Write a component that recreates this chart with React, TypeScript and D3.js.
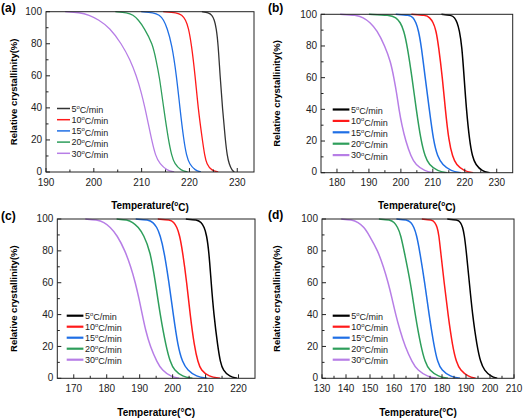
import React from "react";
import * as d3 from "d3";

type Pt = [number, number];

const rates = ["5", "10", "15", "20", "30"];
const seriesColors = ["#111111", "#ff1a1a", "#1f6fe5", "#2e9e5b", "#b77ee6"];
const yTicks = [0, 20, 40, 60, 80, 100];

// Panel (a)  [temperature °C, relative crystallinity %]
const a5: Pt[] = [[222.6,100],[224.0,99.5],[224.7,98],[225.2,95],[225.6,90],[226.0,80],[226.4,60],[226.9,40],[227.5,20],[227.9,10],[228.3,5],[228.9,1],[229.4,0]];
const a10: Pt[] = [[214.5,100],[217.4,99.5],[218.4,98],[219.2,95],[219.8,90],[220.4,80],[221.2,60],[221.8,40],[222.7,20],[223.2,10],[223.6,5],[224.6,1],[226.0,0]];
const a15: Pt[] = [[209.9,100],[212.5,99.5],[213.7,98],[214.6,95],[215.3,90],[216.3,80],[217.3,60],[218.0,40],[218.8,20],[219.4,10],[220.0,5],[221.2,1],[222.4,0]];
const a20: Pt[] = [[204.5,100],[207.0,99.5],[208.2,98],[209.3,95],[210.5,90],[212.3,80],[213.0,70],[213.7,60],[214.6,40],[215.6,20],[216.3,10],[216.9,5],[218.2,1],[219.6,0]];
const a30: Pt[] = [[194.0,100],[197.0,99.5],[199.0,98],[201.0,95],[203.3,90],[205.8,80],[207.6,70],[208.9,60],[209.9,50],[210.7,40],[211.4,30],[212.1,20],[212.9,10],[213.8,5],[215.3,1],[216.8,0]];
const aTicks = [190, 200, 210, 220, 230];

// Panel (b)
const b5: Pt[] = [[212.7,100],[215.8,99.5],[216.8,98],[217.6,95],[218.3,90],[219.1,80],[219.8,60],[220.5,40],[221.5,20],[222.4,10],[223.4,5],[225.4,1],[227.8,0]];
const b10: Pt[] = [[203.3,100],[207.8,99.5],[209.0,98],[210.1,95],[211.0,90],[211.8,80],[213.0,60],[213.9,40],[215.0,20],[216.2,10],[217.3,5],[219.8,1],[222.6,0]];
const b15: Pt[] = [[198.4,100],[202.7,99.5],[203.8,98],[204.7,95],[205.5,90],[206.4,80],[207.6,60],[208.9,40],[210.2,20],[211.5,10],[213.0,5],[215.7,1],[218.8,0]];
const b20: Pt[] = [[190.0,100],[196.5,99.5],[198.5,98],[199.8,95],[200.9,90],[202.0,80],[203.5,60],[204.8,40],[206.3,20],[207.6,10],[208.8,5],[211.5,1],[214.5,0]];
const b30: Pt[] = [[181.0,100],[186.0,99.5],[188.2,98],[190.3,95],[192.5,90],[195.0,80],[196.8,70],[197.8,60],[198.7,50],[199.4,40],[200.3,30],[201.5,20],[203.2,10],[204.6,5],[207.5,1],[210.2,0]];
const bTicks = [180, 190, 200, 210, 220, 230];

// Panel (c)
const c5: Pt[] = [[204.0,100],[207.5,99.5],[208.6,98],[209.6,95],[210.3,90],[211.0,80],[211.7,60],[212.5,40],[213.7,20],[214.5,10],[215.3,5],[217.3,1],[219.6,0]];
const c10: Pt[] = [[195.5,100],[199.3,99.5],[200.3,98],[201.3,95],[202.1,90],[203.0,80],[204.3,60],[205.3,40],[206.6,20],[207.7,10],[208.6,5],[211.0,1],[214.4,0]];
const c15: Pt[] = [[188.8,100],[192.7,99.5],[194.0,98],[195.2,95],[196.2,90],[197.4,80],[198.9,60],[200.2,40],[201.6,20],[203.0,10],[204.5,5],[207.2,1],[210.5,0]];
const c20: Pt[] = [[183.0,100],[186.3,99.5],[187.8,98],[189.6,95],[191.2,90],[193.2,80],[194.8,60],[196.2,40],[198.0,20],[199.3,10],[200.5,5],[203.0,1],[206.0,0]];
const c30: Pt[] = [[173.5,100],[177.0,99.5],[179.2,98],[181.0,95],[183.1,90],[185.6,80],[187.3,70],[188.7,60],[189.8,50],[190.8,40],[191.8,30],[193.2,20],[195.3,10],[196.8,5],[199.5,1],[202.0,0]];
const cTicks = [170, 180, 190, 200, 210, 220];

// Panel (d)
const d5: Pt[] = [[182.2,100],[186.5,99.5],[187.7,98],[188.6,95],[189.3,90],[190.1,80],[191.4,60],[192.7,40],[194.6,20],[196.1,10],[197.6,5],[200.5,1],[203.0,0]];
const d10: Pt[] = [[171.6,100],[175.8,99.5],[177.0,98],[178.0,95],[178.7,90],[179.4,80],[180.9,60],[182.5,40],[184.4,20],[186.0,10],[187.6,5],[191.0,1],[194.0,0]];
const d15: Pt[] = [[161.0,100],[165.5,99.5],[167.0,98],[168.3,95],[169.4,90],[170.7,80],[172.8,60],[174.6,40],[176.7,20],[178.2,10],[179.8,5],[183.5,1],[187.5,0]];
const d20: Pt[] = [[153.7,100],[158.5,99.5],[160.0,98],[161.5,95],[162.8,90],[164.2,80],[166.9,60],[168.8,40],[171.2,20],[173.0,10],[174.7,5],[178.5,1],[182.5,0]];
const d30: Pt[] = [[138.0,100],[142.5,99.5],[145.0,98],[147.5,95],[149.6,90],[153.3,80],[155.6,70],[157.6,60],[159.2,50],[160.7,40],[162.5,30],[164.6,20],[167.6,10],[169.8,5],[174.0,1],[177.6,0]];
const dTicks = [130, 140, 150, 160, 170, 180, 190, 200, 210];

const FONT = "'Liberation Sans', Arial, sans-serif";

interface PanelProps {
  label: string;
  series: Pt[][];
  xDomain: [number, number];
  xTicks: number[];
  left: number; right: number; top: number; bottom: number;
  labelPos: [number, number];
  yTitleX: number;
  xTitleY: number;
  xLabelY: number;
  degSuper: boolean;
  legendX: number; legendY: number; legendLine: number; legendStep: number; legendWidth: number;
  lineWidth: number;
  blackColor: string;
}

function Sup({ t }: { t: string }) {
  return (
    <>
      {t}
      <tspan fontSize="0.65em" dy="-0.45em">o</tspan>
      <tspan dy="0.45em">C/min</tspan>
    </>
  );
}

function Panel(p: PanelProps) {
  const x = d3.scaleLinear().domain(p.xDomain).range([p.left, p.right]);
  const y = d3.scaleLinear().domain([0, 100]).range([p.bottom, p.top]);
  const line = d3.line<Pt>().x(d => x(d[0])).y(d => y(d[1])).curve(d3.curveBasis);
  const minorX: number[] = [];
  for (let i = 0; i < p.xTicks.length; i++) {
    const v = p.xTicks[i] - 5;
    if (v > p.xDomain[0]) minorX.push(v);
  }
  const lastMinor = p.xTicks[p.xTicks.length - 1] + 5;
  if (lastMinor < p.xDomain[1]) minorX.push(lastMinor);
  const minorY = [10, 30, 50, 70, 90];
  const cx = (p.left + p.right) / 2;
  const cy = (p.top + p.bottom) / 2;
  const colors = [p.blackColor, ...seriesColors.slice(1)];
  return (
    <g fontFamily={FONT}>
      <text x={p.labelPos[0]} y={p.labelPos[1]} fontSize={12} fontWeight="bold">({p.label})</text>
      <defs>
        <clipPath id={`clip-${p.label}`}>
          <rect x={p.left} y={p.top - 2} width={p.right - p.left} height={p.bottom - p.top + 2} />
        </clipPath>
      </defs>
      <g clipPath={`url(#clip-${p.label})`}>
        {p.series.map((s, i) => (
          <path key={i} d={line(s) || ""} fill="none" stroke={colors[i]} strokeWidth={p.lineWidth} />
        ))}
      </g>
      <rect x={p.left} y={p.top} width={p.right - p.left} height={p.bottom - p.top} fill="none" stroke="#222" strokeWidth={1} />
      {p.xTicks.map(t => (
        <g key={t}>
          <line x1={x(t)} x2={x(t)} y1={p.bottom} y2={p.bottom - 4} stroke="#222" />
          <text x={x(t)} y={p.xLabelY} fontSize={10} textAnchor="middle" fill="#222">{t}</text>
        </g>
      ))}
      {minorX.map(t => (
        <line key={"m" + t} x1={x(t)} x2={x(t)} y1={p.bottom} y2={p.bottom - 2.5} stroke="#222" />
      ))}
      {yTicks.map(t => (
        <g key={t}>
          <line x1={p.left} x2={p.left + 4} y1={y(t)} y2={y(t)} stroke="#222" />
          <text x={p.left - 4} y={y(t) + (t === 0 ? 2.5 : 3.3)} fontSize={10} textAnchor="end" fill="#222">{t}</text>
        </g>
      ))}
      {minorY.map(t => (
        <line key={"my" + t} x1={p.left} x2={p.left + 2.5} y1={y(t)} y2={y(t)} stroke="#222" />
      ))}
      <text transform={`translate(${p.yTitleX},${cy}) rotate(-90)`} textAnchor="middle" fontSize={9.5} fontWeight="bold" dy="0.35em">
        Relative crystallinity(%)
      </text>
      <text x={cx} y={p.xTitleY} textAnchor="middle" fontSize={10} fontWeight="bold">
        {p.degSuper ? (
          <>Temperature(<tspan fontSize="0.65em" dy="-0.45em">o</tspan><tspan dy="0.45em">C)</tspan></>
        ) : (
          "Temperature(°C)"
        )}
      </text>
      {rates.map((r, i) => {
        const ly = p.legendY + i * p.legendStep;
        return (
          <g key={r}>
            <line x1={p.legendX} x2={p.legendX + p.legendLine} y1={ly} y2={ly} stroke={colors[i]} strokeWidth={p.legendWidth} />
            <text x={p.legendX + p.legendLine + 1.5} y={ly + 3.2} fontSize={9} fill="#222"><Sup t={r} /></text>
          </g>
        );
      })}
    </g>
  );
}

export default function App() {
  return (
    <svg width={524} height={419} style={{ position: "absolute", left: 0, top: 0, background: "#fff" }}>
      <Panel label="a" series={[a5, a10, a15, a20, a30]} xDomain={[190, 233.5]} xTicks={aTicks}
        left={46} right={254} top={11.7} bottom={172} labelPos={[1, 12]} yTitleX={13.5} xTitleY={209} xLabelY={185.5}
        degSuper={true} legendX={57} legendY={108.5} legendLine={13} legendStep={11.2} legendWidth={1.5} lineWidth={1.3} blackColor="#333" />
      <Panel label="b" series={[b5, b10, b15, b20, b30]} xDomain={[175, 235]} xTicks={bTicks}
        left={321} right={512.7} top={14.3} bottom={172.7} labelPos={[268, 12]} yTitleX={277} xTitleY={209} xLabelY={186}
        degSuper={true} legendX={332.7} legendY={109.5} legendLine={16.7} legendStep={11.4} legendWidth={2.2} lineWidth={1.5} blackColor="#000" />
      <Panel label="c" series={[c5, c10, c15, c20, c30]} xDomain={[165, 225]} xTicks={cTicks}
        left={57.3} right={255} top={219} bottom={378.3} labelPos={[1, 220]} yTitleX={13.5} xTitleY={416} xLabelY={392}
        degSuper={false} legendX={66.7} legendY={315.7} legendLine={16.7} legendStep={11} legendWidth={2.2} lineWidth={1.5} blackColor="#000" />
      <Panel label="d" series={[d5, d10, d15, d20, d30]} xDomain={[130, 210]} xTicks={dTicks}
        left={322} right={514} top={219} bottom={378.3} labelPos={[268, 219]} yTitleX={277} xTitleY={416} xLabelY={392}
        degSuper={false} legendX={332.7} legendY={315.7} legendLine={17} legendStep={11} legendWidth={2.2} lineWidth={1.5} blackColor="#000" />
    </svg>
  );
}
